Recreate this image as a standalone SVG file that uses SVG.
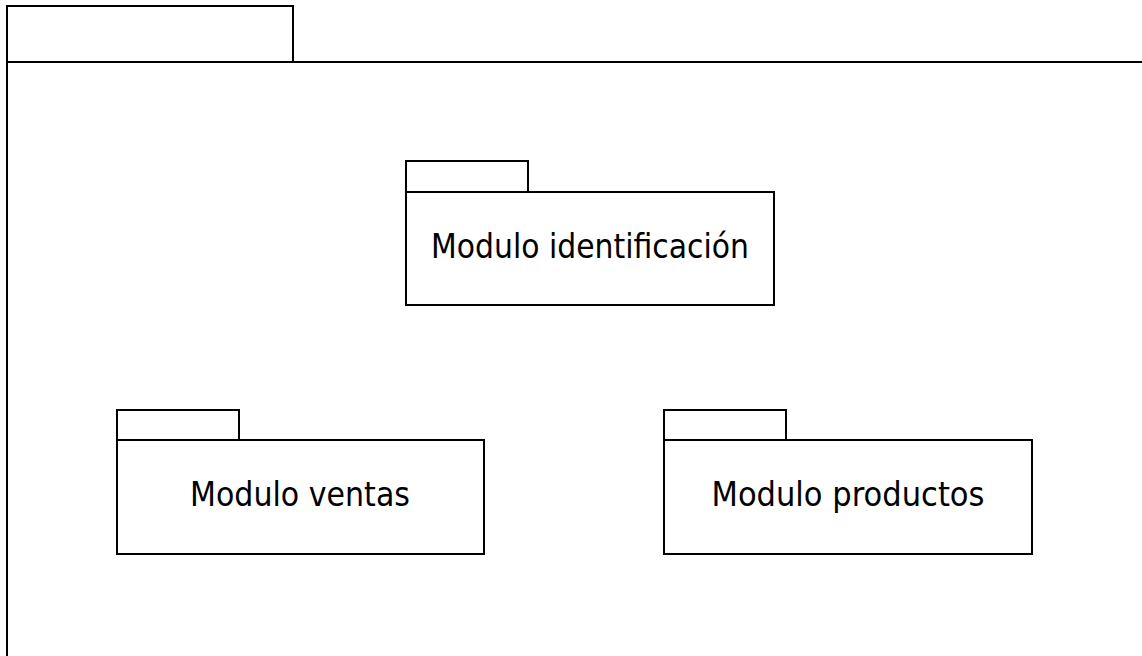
<svg xmlns="http://www.w3.org/2000/svg" width="1142" height="656" viewBox="0 0 1142 656">
<style>
.s{fill:#fff;stroke:#000;stroke-width:2}
.t{font-family:"DejaVu Sans",Verdana,sans-serif;font-size:34px;fill:#000;text-anchor:middle}
</style>
<rect width="1142" height="656" fill="#fff"/>
<g id="outer">
<rect class="s" x="7" y="6" width="286" height="56"/>
<path d="M7 62H1143M7 62V657" fill="none" stroke="#000" stroke-width="2"/>
</g>
<g id="identificacion">
<rect class="s" x="406" y="161" width="122" height="31"/>
<rect class="s" x="406" y="192" width="368" height="113"/>
<text class="t" x="590" y="258" textLength="318" lengthAdjust="spacingAndGlyphs">Modulo identificación</text>
</g>
<g id="ventas">
<rect class="s" x="117" y="410" width="122" height="30"/>
<rect class="s" x="117" y="440" width="367" height="114"/>
<text class="t" x="300" y="506" textLength="220" lengthAdjust="spacingAndGlyphs">Modulo ventas</text>
</g>
<g id="productos">
<rect class="s" x="664" y="410" width="122" height="30"/>
<rect class="s" x="664" y="440" width="368" height="114"/>
<text class="t" x="848" y="506" textLength="273" lengthAdjust="spacingAndGlyphs">Modulo productos</text>
</g>
<g id="connectors"></g>
</svg>
